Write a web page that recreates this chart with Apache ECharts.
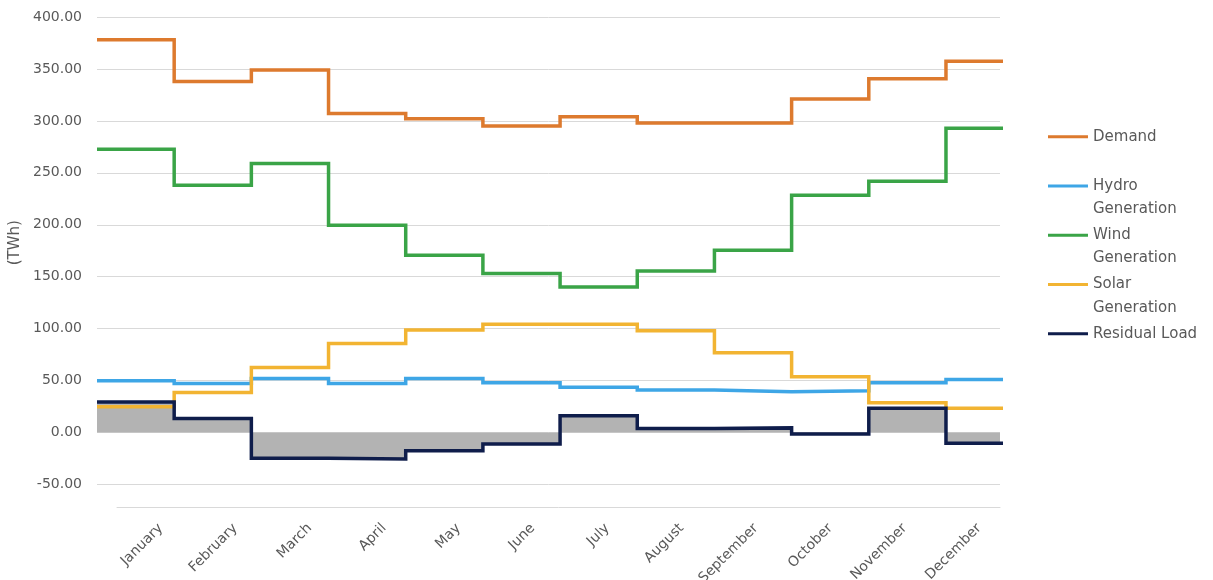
<!DOCTYPE html>
<html>
<head>
<meta charset="utf-8">
<script src="https://cdn.jsdelivr.net/npm/echarts@6/dist/echarts.min.js"></script>
<style>
  html, body { margin: 0; padding: 0; background: #ffffff; }
  #chart { width: 1213px; height: 580px; }
</style>
</head>
<body>
<div id="chart"></div>
<script>
// Monthly energy balance (TWh)
const months = ['January', 'February', 'March', 'April', 'May', 'June',
                'July', 'August', 'September', 'October', 'November', 'December'];
const demand   = [378, 338, 349, 307, 302, 295, 304, 298, 298, 321, 340.5, 357.5];
const hydro    = [49.8, 47.3, 52, 47.3, 52, 47.9, 43.5, 40.9, 39.2, 40.2, 47.9, 51];
const wind     = [272.6, 238, 259, 199.5, 170.7, 153, 140, 155.6, 175.5, 228.4, 241.8, 293];
const solar    = [24.8, 38.6, 62.7, 85.8, 98.6, 104.3, 104.3, 97.9, 76.7, 53.7, 28.7, 23.3];
const residual = [29.3, 13.6, -24.8, -25.5, -17.5, -11, 16.2, 4, 4.5, -1.4, 23.3, -10.4];
const yTicks   = { min: -50, max: 400, step: 50 };

const TEXT = '#595959';
const GRID_LINE = '#d9d9d9';
const FONT = 'DejaVu Sans';
const LEGEND_LINE_HEIGHT = 23.3;

// each month holds its value until the next month starts
function monthSteps(values) {
  const pts = values.map((v, i) => [i, v]);
  pts.push([values.length, values[values.length - 1]]);
  return pts;
}

function stepLine(name, values, color) {
  return {
    name: name,
    type: 'line',
    step: 'end',
    xAxisIndex: 0,
    yAxisIndex: 0,
    data: monthSteps(values),
    showSymbol: false,
    symbol: 'none',
    lineStyle: { color: color, width: 3.5, join: 'miter', cap: 'butt' },
    itemStyle: { color: color },
    z: 3
  };
}

// legend swatch: a short bar at the top of the item box, so it lines up
// with the first line of a two-line label
const swatchH = LEGEND_LINE_HEIGHT + 3;
const swatchPath = 'path://M0,0L40,0L40,3L0,3Z M0,' + swatchH + 'L0.01,' + swatchH +
                   'L0.01,' + (swatchH + 0.01) + 'L0,' + (swatchH + 0.01) + 'Z';

const chart = echarts.init(document.getElementById('chart'), null, { renderer: 'canvas' });

chart.setOption({
  animation: false,
  backgroundColor: '#ffffff',
  textStyle: { fontFamily: FONT },
  grid: [
    { left: 97, right: 213, top: 17, bottom: 95.5, outerBoundsMode: 'none', containLabel: false },
    { left: 117, right: 213, top: 17, bottom: 73, outerBoundsMode: 'none', containLabel: false }
  ],
  xAxis: [
    { type: 'value', gridIndex: 0, min: 0, max: 11.7, show: false },
    {
      type: 'value', gridIndex: 1, min: -0.59, max: 11.28,
      axisLine: { show: true, lineStyle: { color: GRID_LINE, width: 1 } },
      axisTick: { show: false },
      splitLine: { show: false },
      axisLabel: {
        customValues: months.map((m, i) => i),
        formatter: v => months[Math.round(v)] || '',
        rotate: 45,
        margin: 19,
        color: TEXT,
        fontSize: 14,
        fontFamily: FONT
      }
    }
  ],
  yAxis: [
    {
      type: 'value', gridIndex: 0,
      min: yTicks.min, max: yTicks.max, interval: yTicks.step,
      name: '(TWh)',
      nameLocation: 'middle',
      nameGap: 72,
      nameTextStyle: { color: TEXT, fontSize: 15, fontFamily: FONT, padding: [0, 0, 0, 16] },
      axisLine: { show: false },
      axisTick: { show: false },
      splitLine: { show: true, lineStyle: { color: GRID_LINE, width: 1 } },
      axisLabel: {
        color: TEXT, fontSize: 14, fontFamily: FONT, margin: 15,
        formatter: v => v.toFixed(2)
      }
    },
    { type: 'value', gridIndex: 1, show: false, min: 0, max: 1 }
  ],
  legend: {
    orient: 'vertical',
    left: 1043,
    top: 120,
    padding: 5,
    itemWidth: 40,
    itemHeight: swatchH,
    itemGap: 2.7,
    icon: swatchPath,
    data: ['Demand', 'Hydro Generation', 'Wind Generation', 'Solar Generation', 'Residual Load'],
    formatter: name => name.indexOf(' Generation') > 0
      ? name.replace(' Generation', '\nGeneration')
      : name + '\n ',
    textStyle: {
      color: TEXT, fontSize: 15, fontFamily: FONT,
      lineHeight: LEGEND_LINE_HEIGHT
    },
    selectedMode: false
  },
  series: [
    {
      name: 'Residual Load area',
      type: 'line',
      step: 'end',
      xAxisIndex: 0,
      yAxisIndex: 0,
      data: monthSteps(residual),
      showSymbol: false,
      symbol: 'none',
      lineStyle: { width: 0 },
      areaStyle: { color: '#b3b3b3', opacity: 1 },
      silent: true,
      z: 1
    },
    stepLine('Demand', demand, '#dd7a2e'),
    stepLine('Hydro Generation', hydro, '#3ea6e6'),
    stepLine('Wind Generation', wind, '#3aa447'),
    stepLine('Solar Generation', solar, '#f2b432'),
    stepLine('Residual Load', residual, '#0f1d4b')
  ]
});
</script>
</body>
</html>
